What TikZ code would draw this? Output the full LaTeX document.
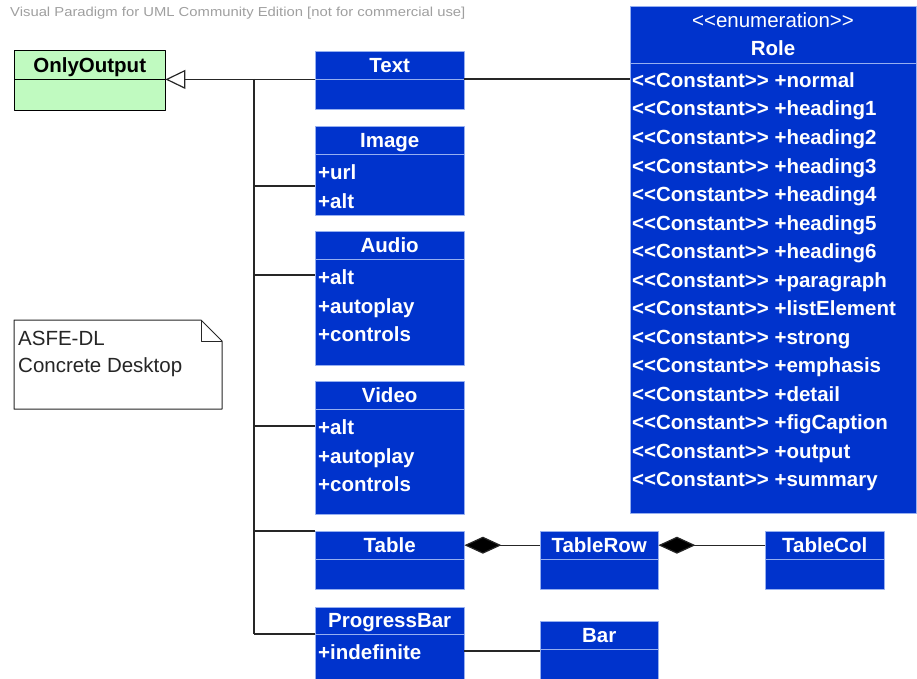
\documentclass[tikz,border=0pt]{standalone}
\usepackage{fontspec}
\setmainfont{Liberation Sans}
\newfontfamily\vpfont{Liberation Sans}[FakeStretch=1.14]
\usetikzlibrary{arrows.meta,positioning}
\definecolor{umlblue}{RGB}{0,51,204}
\definecolor{umledge}{RGB}{150,175,240}
\definecolor{umlgreen}{RGB}{192,250,192}
\newcommand\stereo[1]{<\kern0pt<#1>\kern0pt>}
\newcommand\umlsize{\fontsize{20.5}{24}\selectfont}

\begin{document}
\begin{tikzpicture}[x=1pt,y=-1pt,line join=round,>=stealth]
	\tikzset{
		head/.style={draw=umledge, fill=umlblue, text=white, font=\umlsize\bfseries,
			anchor=north west, inner sep=0pt, text depth=0pt, minimum width=149pt, minimum height=28pt},
		body/.style={draw=umledge, fill=umlblue, anchor=north west, inner sep=0pt, minimum width=149pt},
		attr/.style={text=white, font=\umlsize\bfseries, anchor=base west, inner sep=0pt},
		link/.style={draw=black!85, line width=1.2pt},
		comp/.style={link, -{Diamond[length=37pt,width=17pt,fill=black]}},
	}
	\useasboundingbox (0,0) rectangle (917,679);
	\node[anchor=base west, inner sep=0pt, text=gray!75, font=\vpfont\fontsize{13}{15}\selectfont] (vp) at (10,16.5)
		{Visual Paradigm for UML Community Edition [not for commercial use]};
	% superclass
	\node[head, draw=black, fill=umlgreen, text=black, minimum width=151pt, minimum height=29pt] (only) at (14,50) {OnlyOutput};
	\node[body, draw=black, fill=umlgreen, minimum width=151pt, minimum height=31pt] (onlyb) at (14,79) {};
	% subclasses
	\node[head] (text) at (315,51) {Text};
	\node[body, minimum height=30pt] (textb) at (315,79) {};
	\node[head] (image) at (315,126) {Image};
	\node[body, minimum height=61pt] (imageb) at (315,154) {};
	\node[attr] (imurl) at (318,179.5) {+url};
	\node[attr] (imalt) at (318,208) {+alt};
	\node[head] (audio) at (315,231) {Audio};
	\node[body, minimum height=106pt] (audiob) at (315,259) {};
	\node[head] (video) at (315,381) {Video};
	\node[body, minimum height=105pt] (videob) at (315,409) {};
	\foreach \cls/\y in {audio/284.5,video/434.5}{
		\node[attr] (\cls alt) at (318,\y) {+alt};
		\node[attr] (\cls play) at (318,\y+28.5) {+autoplay};
		\node[attr] (\cls ctrl) at (318,\y+57) {+controls};
	}
	\node[head] (table) at (315,531) {Table};
	\node[body, minimum height=30pt] (tableb) at (315,559) {};
	\node[head, minimum height=27pt] (pbar) at (315,607) {ProgressBar};
	\node[body, minimum height=50pt] (pbarb) at (315,634) {};
	\node[attr] (pbind) at (318,659) {+indefinite};
	% parts
	\node[head, minimum width=118pt] (tablerow) at (540,531) {TableRow};
	\node[body, minimum width=118pt, minimum height=30pt] (tablerowb) at (540,559) {};
	\node[head, minimum width=119pt] (tablecol) at (765,531) {TableCol};
	\node[body, minimum width=119pt, minimum height=30pt] (tablecolb) at (765,559) {};
	\node[head, minimum width=118pt] (bar) at (540,621) {Bar};
	\node[body, minimum width=118pt, minimum height=35pt] (barb) at (540,649) {};
	% enumeration
	\node[head, minimum width=286pt, minimum height=57pt] (role) at (630,6) {};
	\node[text=white, font=\umlsize, inner sep=0pt] (rolest) at (773,20) {\stereo{enumeration}};
	\node[text=white, font=\umlsize\bfseries, inner sep=0pt] (rolename) at (773,48) {Role};
	\node[body, minimum width=286pt, minimum height=450pt] (roleb) at (630,63) {};
	\foreach \lit [count=\i from 0] in {normal,heading1,heading2,heading3,heading4,heading5,heading6,
		paragraph,listElement,strong,emphasis,detail,figCaption,output,summary}
		\node[attr] (lit\i) at (632,87.5+28.5*\i) {\stereo{Constant} +\lit};
	% note
	\draw[black!85, line width=1pt, fill=white] (14,320) -- (201,320) -- (222,341) -- (222,409) -- (14,409) -- cycle;
	\draw[black!85, line width=1pt] (201,320) -- (201,341) -- (222,341);
	\node[anchor=base west, inner sep=0pt, font=\umlsize, text=black!85] (notea) at (18,345) {ASFE-DL};
	\node[anchor=base west, inner sep=0pt, font=\umlsize, text=black!85] (noteb) at (18,372) {Concrete Desktop};
	% generalization
	\coordinate (trunk) at (254,79);
	\draw[link, -{Triangle[open, length=20pt, width=19pt, fill=white]}] (text.south west) -- (only.south east);
	\draw[link] (trunk) -- (trunk |- 0,634);
	\foreach \cls/\y in {imageb/186,audiob/275,videob/426,table/531,pbar/634}
		\draw[link] (trunk |- 0,\y) -- (\cls.west |- 0,\y);
	% associations
	\draw[link] (textb.north east) -- (textb.north east -| roleb.west);
	\draw[comp] (tablerow.west) -- (table.east);
	\draw[comp] (tablecol.west) -- (tablerow.east);
	\draw[link] (pbarb.east |- 0,651) -- (barb.west |- 0,651);
\end{tikzpicture}
\end{document}
